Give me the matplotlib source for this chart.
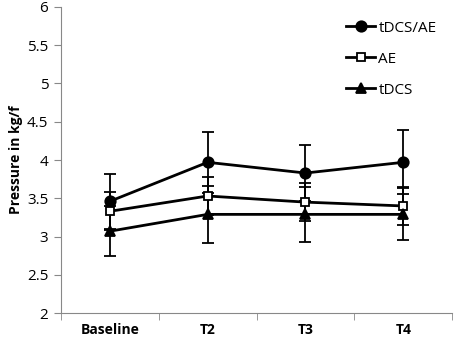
import numpy as np
import matplotlib.pyplot as plt

plt.rcParams['font.family'] = ['Open Sans', 'DejaVu Sans']

categories = ['Baseline', 'T2', 'T3', 'T4']
tdcs_ae = [3.46, 3.97, 3.83, 3.97]
tdcs_ae_err = [0.36, 0.40, 0.37, 0.42]
ae = [3.33, 3.53, 3.45, 3.40]
ae_err = [0.25, 0.25, 0.25, 0.25]
tdcs = [3.07, 3.29, 3.29, 3.29]
tdcs_err = [0.33, 0.37, 0.36, 0.34]

fig = plt.figure(figsize=(4.54, 3.43), dpi=100)
ax = fig.add_axes([0.134, 0.087, 0.862, 0.893])

x = np.arange(len(categories))
series = [
    (tdcs_ae, tdcs_ae_err, 'o', 'black', 7.5, 'tDCS/AE'),
    (ae, ae_err, 's', 'white', 6.0, 'AE'),
    (tdcs, tdcs_err, '^', 'black', 6.5, 'tDCS'),
]
for vals, err, mk, fc, ms, lab in series:
    ax.errorbar(x, vals, yerr=err, fmt='none', ecolor='black', elinewidth=1.3,
                capsize=4, capthick=1.3, zorder=2)
    ax.plot(x, vals, color='black', lw=2, marker=mk, markerfacecolor=fc,
            markeredgecolor='black', markeredgewidth=1.3, markersize=ms,
            label=lab, zorder=3)

ax.set_xlim(-0.5, 3.5)
ax.set_ylim(2, 6)
ax.set_yticks(np.arange(2, 6.01, 0.5))
ax.set_yticklabels(['2', '2.5', '3', '3.5', '4', '4.5', '5', '5.5', '6'], fontsize=11)
ax.set_xticks(x)
ax.set_xticklabels(categories, fontsize=10, fontweight='bold')
ax.tick_params(axis='x', which='major', length=0, pad=7)
ax.set_xticks(np.arange(-0.5, 3.51, 1), minor=True)
ax.tick_params(axis='x', which='minor', length=5, color='#888888')
ax.tick_params(axis='y', length=5, color='#888888', pad=4)
for s in ['top', 'right']:
    ax.spines[s].set_visible(False)
for s in ['left', 'bottom']:
    ax.spines[s].set_color('#888888')
ax.set_ylabel('Pressure in kg/f', fontsize=10, fontweight='bold', labelpad=3)

ax.legend(loc='upper right', frameon=False, fontsize=11, handlelength=1.9,
          handletextpad=0.2, labelspacing=1.05, bbox_to_anchor=(0.995, 1.0))

fig.savefig('out.png', dpi=100)
